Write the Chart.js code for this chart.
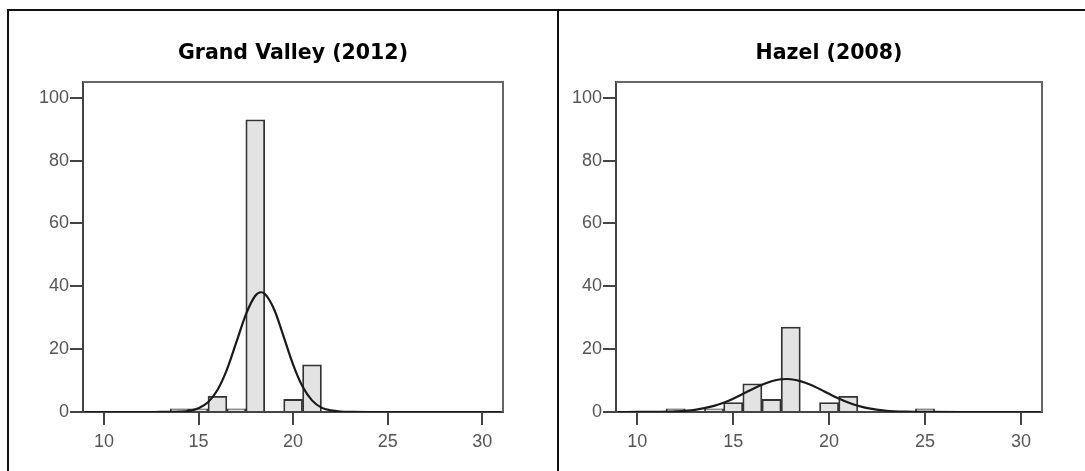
<!DOCTYPE html>
<html><head><meta charset="utf-8">
<script src="https://cdn.jsdelivr.net/npm/chart.js@4.4.1/dist/chart.umd.min.js"></script>
<style>
html,body{margin:0;padding:0;background:#fff;}
body{width:1085px;height:471px;position:relative;overflow:hidden;}
.line{position:absolute;background:#111;}
.box{position:absolute;}
</style></head><body>
<div class="line" style="left:7px;top:9px;width:1078px;height:2px"></div>
<div class="line" style="left:7px;top:9px;width:2px;height:462px"></div>
<div class="line" style="left:557px;top:9px;width:2px;height:462px"></div>
<div class="box" style="left:9px;top:12px;width:547px;height:459px"><canvas id="c1" width="547" height="459"></canvas></div>
<div class="box" style="left:559px;top:12px;width:526px;height:459px"><canvas id="c2" width="526" height="459"></canvas></div>
<script>
// ---- data ----
const titleLeft = 'Grand Valley (2012)';
const titleRight = 'Hazel (2008)';
const xTicks = [10, 15, 20, 25, 30];
const yTicks = [0, 20, 40, 60, 80, 100];

const gvBins   = [14, 15, 16, 17, 18, 20, 21];
const gvCounts = [1, 1, 5, 1, 93, 4, 15];
const gvCurveX = [9, 12, 13, 13.5, 14, 14.5, 15, 15.5, 16, 16.5, 17, 17.5, 18, 18.3, 18.5, 19, 19.5, 20, 20.5, 21, 21.5, 22, 22.5, 23, 24, 27, 31];
const gvCurveY = [0, 0, 0.01, 0.02, 0.1, 0.37, 1.2, 3.1, 7.0, 13.5, 22.2, 31.0, 37.0, 38.1, 37.6, 32.6, 24.0, 15.1, 8.1, 3.7, 1.4, 0.5, 0.13, 0.03, 0, 0, 0];

const hzBins   = [12, 14, 15, 16, 17, 18, 20, 21, 25];
const hzCounts = [1, 1, 3, 9, 4, 27, 3, 5, 1];
const hzCurveX = [9, 10, 11, 12, 13, 14, 14.5, 15, 15.5, 16, 16.5, 17, 17.5, 17.8, 18, 18.5, 19, 19.5, 20, 20.5, 21, 21.5, 22, 23, 24, 25, 27, 31];
const hzCurveY = [0, 0.01, 0.05, 0.2, 0.7, 1.95, 2.96, 4.24, 5.72, 7.27, 8.69, 9.8, 10.42, 10.5, 10.43, 9.84, 8.74, 7.32, 5.78, 4.29, 3.0, 1.99, 1.24, 0.4, 0.1, 0.02, 0, 0];

// ---- helpers ----
const framePlugin = {
  id: 'frame',
  afterDatasetsDraw(chart) {
    const a = chart.chartArea, ctx = chart.ctx;
    ctx.save();
    ctx.strokeStyle = '#666';
    ctx.lineWidth = 2;
    ctx.beginPath();
    ctx.moveTo(a.left, a.top);
    ctx.lineTo(a.right, a.top);
    ctx.lineTo(a.right, a.bottom);
    ctx.stroke();
    ctx.restore();
  }
};

function makeChart(id, title, bins, counts, cx, cy, yAxisWidth, padRight) {
  const barData = bins.map((b, i) => ({x: b, y: counts[i]}));
  const curveData = cx.map((x, i) => ({x: x, y: cy[i]}));
  return new Chart(document.getElementById(id), {
    type: 'bar',
    data: {
      datasets: [
        {
          type: 'line', data: curveData, order: 0,
          borderColor: '#1a1a1a', borderWidth: 2.2, pointRadius: 0,
          cubicInterpolationMode: 'monotone', fill: false
        },
        {
          type: 'bar', data: barData, order: 1,
          backgroundColor: '#e3e3e3', borderColor: '#333', borderWidth: 1.8,
          barPercentage: 1, categoryPercentage: 1
        }
      ]
    },
    options: {
      responsive: false, animation: false, devicePixelRatio: 1,
      layout: {padding: {top: 0, left: 0, right: padRight, bottom: 0}},
      plugins: {
        legend: {display: false}, tooltip: {enabled: false},
        title: {
          display: true, text: title, fullSize: false, color: '#000',
          font: {family: '"DejaVu Sans", Verdana, sans-serif', size: 20.5, weight: 'bold', lineHeight: 1.2},
          padding: {top: 29, bottom: 16.4}
        }
      },
      scales: {
        x: {
          type: 'linear', min: 8.89, max: 31.1, offset: false,
          afterBuildTicks: s => { s.ticks = xTicks.map(v => ({value: v})); },
          afterFit: s => { s.height = 59; },
          grid: {display: true, offset: false, drawOnChartArea: false, drawTicks: true, tickLength: 13, color: '#444', lineWidth: 2},
          border: {display: true, color: '#444', width: 2},
          ticks: {color: '#555', font: {family: '"Liberation Sans", Arial, sans-serif', size: 18}, padding: 6, maxRotation: 0, autoSkip: false}
        },
        y: {
          type: 'linear', min: 0, max: 105,
          afterBuildTicks: s => { s.ticks = yTicks.map(v => ({value: v})); },
          afterFit: s => { s.width = yAxisWidth; },
          grid: {display: true, drawOnChartArea: false, drawTicks: true, tickLength: 13, color: '#444', lineWidth: 2},
          border: {display: true, color: '#444', width: 2},
          ticks: {color: '#555', font: {family: '"Liberation Sans", Arial, sans-serif', size: 18}, padding: 1}
        }
      }
    },
    plugins: [framePlugin]
  });
}

makeChart('c1', titleLeft, gvBins, gvCounts, gvCurveX, gvCurveY, 74, 53);
makeChart('c2', titleRight, hzBins, hzCounts, hzCurveX, hzCurveY, 57, 43);
</script>
</body></html>
